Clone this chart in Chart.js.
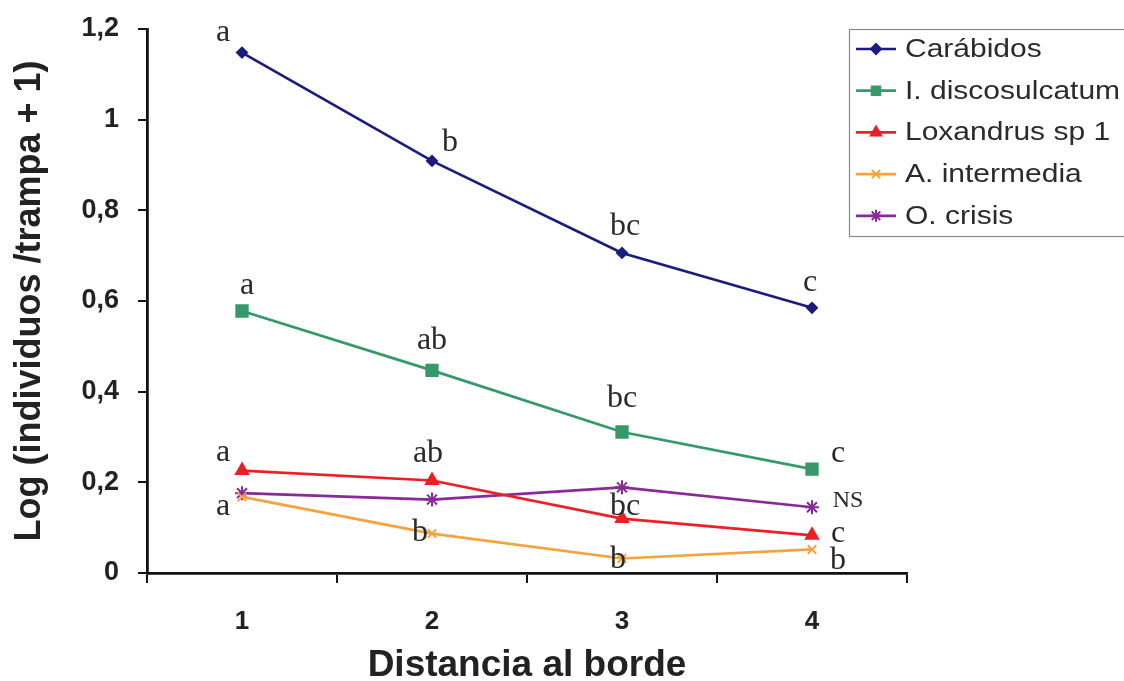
<!DOCTYPE html>
<html>
<head>
<meta charset="utf-8">
<title>Distancia al borde</title>
<script src="https://cdn.jsdelivr.net/npm/chart.js@4.4.0/dist/chart.umd.min.js"></script>
<style>
    html, body { margin: 0; padding: 0; background: #fff; }
    #wrap { width: 1124px; height: 681px; }
</style>
</head>
<body>
<div id="wrap"><canvas id="chart" width="1124" height="681"></canvas></div>
<script>
// distancias (categorias del eje x)
const distances = ['1', '2', '3', '4'];

// Log (individuos / trampa + 1)
const carabidos = [1.148, 0.909, 0.706, 0.585];
const discosulcatum = [0.578, 0.447, 0.311, 0.229];
const loxandrus = [0.226, 0.204, 0.120, 0.083];
const intermedia = [0.168, 0.087, 0.032, 0.052];
const crisis = [0.176, 0.162, 0.189, 0.145];

// letras de significancia por punto
const carabidosLetters = ['a', 'b', 'bc', 'c'];
const discosulcatumLetters = ['a', 'ab', 'bc', 'c'];
const loxandrusLetters = ['a', 'ab', 'bc', 'c'];
const intermediaLetters = ['a', 'b', 'b', 'b'];
const crisisLetters = ['', '', '', 'NS'];

const yTicks = [0, 0.2, 0.4, 0.6, 0.8, 1, 1.2];

// desplazamiento de cada letra respecto a su punto (px)
const letterOffsets = [
    [[-19, -20], [18, -18], [3, -26], [-2, -25]],
    [[5, -25], [0, -30], [0, -33], [26, -16]],
    [[-19, -18], [-4, -27], [3, -12], [26, -2]],
    [[-19, 10], [-12, -1], [-4, 1], [26, 11]],
    [[0, 0], [0, 0], [0, 0], [36, -7]]
];

function makeSet(label, data, letters, color, style, radius) {
    return {
        label: label,
        data: data,
        letters: letters,
        borderColor: color,
        backgroundColor: color,
        pointBackgroundColor: color,
        pointBorderColor: color,
        pointStyle: style,
        pointRadius: radius,
        pointHoverRadius: radius,
        pointBorderWidth: 2,
        borderWidth: 2.7,
        tension: 0
    };
}

const letterPlugin = {
    id: 'letters',
    afterDatasetsDraw(chart) {
        const ctx = chart.ctx;
        ctx.save();
        ctx.fillStyle = '#2a2a2a';
        ctx.textAlign = 'center';
        ctx.textBaseline = 'middle';
        chart.data.datasets.forEach(function (ds, i) {
            let meta = chart.getDatasetMeta(i);
            meta.data.forEach(function (pt, j) {
                let txt = ds.letters[j];
                if (!txt) {
                    return;
                }
                ctx.font = txt === 'NS' ? '24px "Liberation Serif"' : '32px "Liberation Serif"';
                let off = letterOffsets[i][j];
                ctx.fillText(txt, pt.x + off[0], pt.y + off[1]);
            });
        });
        ctx.restore();
    }
};

const legendPlugin = {
    id: 'boxLegend',
    afterDraw(chart) {
        const ctx = chart.ctx;
        const left = 849, top = 29, height = 207;
        ctx.save();
        ctx.fillStyle = '#fff';
        ctx.fillRect(left, top, 300, height);
        ctx.strokeStyle = '#8a8a8a';
        ctx.lineWidth = 1.2;
        ctx.strokeRect(left + 0.5, top + 0.5, 300, height);

        chart.data.datasets.forEach(function (ds, i) {
            let y = top + 20 + i * 41.7;
            ctx.strokeStyle = ds.borderColor;
            ctx.fillStyle = ds.borderColor;
            ctx.lineWidth = 2.7;
            ctx.beginPath();
            ctx.moveTo(856, y);
            ctx.lineTo(896, y);
            ctx.stroke();
            ctx.lineWidth = 2;
            Chart.helpers.drawPoint(ctx, {
                pointStyle: ds.pointStyle,
                radius: Math.min(ds.pointRadius, 6),
                rotation: 0,
                borderWidth: 2
            }, 876, y);

            ctx.save();
            ctx.translate(905, y);
            ctx.scale(1.2, 1);
            ctx.fillStyle = '#2b2b2b';
            ctx.font = '25px "Liberation Sans"';
            ctx.textBaseline = 'middle';
            ctx.fillText(ds.label, 0, 1);
            ctx.restore();
        });
        ctx.restore();
    }
};

new Chart(document.getElementById('chart'), {
    type: 'line',
    data: {
        labels: distances,
        datasets: [
            makeSet('Carábidos', carabidos, carabidosLetters, '#1c1c7e', 'rectRot', 5),
            makeSet('I. discosulcatum', discosulcatum, discosulcatumLetters, '#35996a', 'rect', 8),
            makeSet('Loxandrus sp 1', loxandrus, loxandrusLetters, '#ec1f26', 'triangle', 7),
            makeSet('A. intermedia', intermedia, intermediaLetters, '#f6a23e', 'crossRot', 6),
            makeSet('O. crisis', crisis, crisisLetters, '#882a98', 'star', 7)
        ]
    },
    options: {
        responsive: false,
        animation: false,
        layout: {
            padding: { top: 29, right: 217, bottom: 0, left: 0 }
        },
        plugins: {
            legend: { display: false },
            tooltip: { enabled: false }
        },
        scales: {
            x: {
                offset: true,
                grid: {
                    offset: true,
                    drawOnChartArea: false,
                    color: '#111',
                    lineWidth: 2,
                    tickLength: 10
                },
                border: { color: '#111', width: 2.8 },
                ticks: {
                    color: '#222',
                    padding: 23,
                    font: { family: '"Liberation Sans"', size: 26, weight: 'bold' }
                },
                title: {
                    display: true,
                    text: 'Distancia al borde',
                    color: '#222',
                    padding: 0,
                    font: { family: '"Liberation Sans"', size: 37, weight: 'bold', lineHeight: 0.8 }
                },
                afterFit(scale) {
                    scale.height = 108;
                    scale.paddingLeft = 0;
                    scale.paddingRight = 0;
                }
            },
            y: {
                min: 0,
                max: 1.2,
                afterBuildTicks(scale) {
                    scale.ticks = yTicks.map(v => ({ value: v }));
                },
                grid: {
                    drawOnChartArea: false,
                    color: '#111',
                    lineWidth: 2,
                    tickLength: 9
                },
                border: { color: '#111', width: 2.8 },
                ticks: {
                    color: '#222',
                    padding: 19,
                    font: { family: '"Liberation Sans"', size: 27, weight: 'bold' },
                    callback: function (value) {
                        return String(Number(value.toFixed(1))).replace('.', ',');
                    }
                },
                title: {
                    display: true,
                    text: 'Log (individuos /trampa + 1)',
                    color: '#222',
                    padding: { top: 16, bottom: 0 },
                    font: { family: '"Liberation Sans"', size: 36, weight: 'bold', lineHeight: 0.8 }
                },
                afterFit(scale) {
                    scale.width = 147;
                    scale.paddingTop = 0;
                    scale.paddingBottom = 0;
                }
            }
        }
    },
    plugins: [letterPlugin, legendPlugin]
});
</script>
</body>
</html>
